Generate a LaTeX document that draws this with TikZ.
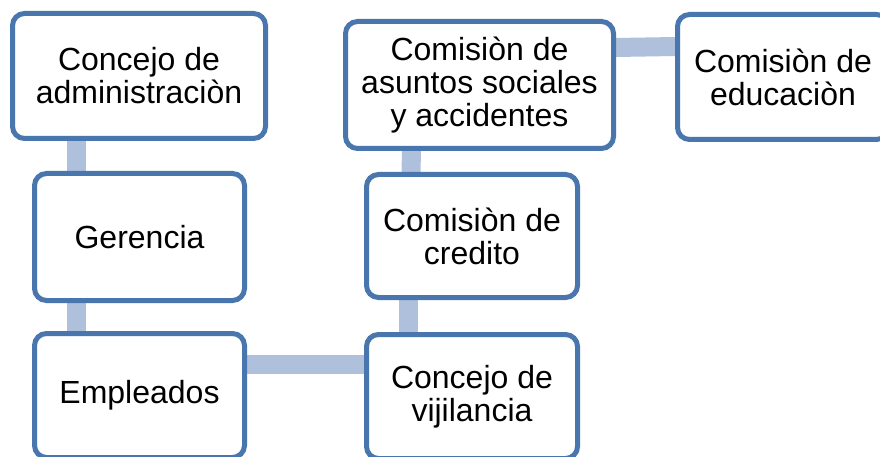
\documentclass[tikz,border=0pt]{standalone}
\usepackage{fontspec}
\setmainfont{Liberation Sans}
\usetikzlibrary{backgrounds}
\definecolor{boxline}{HTML}{4A76AE}
\definecolor{connfill}{HTML}{AFC0DC}
\tikzset{
  orgbox/.style={draw=boxline, line width=5pt, fill=white, rounded corners=12pt,
    align=center, inner sep=0pt, font=\fontsize{32}{33}\selectfont},
  conn/.style={draw=connfill, line width=19pt}
}
\begin{document}
\begin{tikzpicture}[x=1pt,y=-1pt]
\useasboundingbox (0,0) rectangle (880,457);
\clip (0,0) rectangle (880,457);
% nodes
\node[orgbox, minimum width=253pt, minimum height=125pt] (adm) at (139,76) {Concejo de\\administraciòn};
\node[orgbox, minimum width=210pt, minimum height=127pt] (ger) at (139.5,237) {Gerencia};
\node[orgbox, minimum width=210pt, minimum height=124pt] (emp) at (139.5,395.5) {Empleados};
\node[orgbox, minimum width=211pt, minimum height=124pt] (vij) at (472,396.5) {Concejo de\\vijilancia};
\node[orgbox, minimum width=211pt, minimum height=123pt] (cre) at (472,236) {Comisiòn de\\credito};
\node[orgbox, minimum width=268pt, minimum height=127pt] (soc) at (479.5,85) {Comisiòn de\\asuntos sociales\\y accidentes};
\node[orgbox, minimum width=211pt, minimum height=125pt] (edu) at (783,77) {Comisiòn de\\educaciòn};
% connectors (behind boxes)
\begin{scope}[on background layer]
\fill[white] (0,0) rectangle (880,457);
\draw[conn] ([xshift=-63pt]adm.south) -- ([xshift=-63.5pt]ger.north);
\draw[conn] ([xshift=-63.5pt]ger.south) -- ([xshift=-63.5pt]emp.north);
\draw[conn] ([yshift=31.5pt]emp.east) -- ([yshift=32.5pt]vij.west);
\draw[conn] ([xshift=-63.5pt]vij.north) -- ([xshift=-63.5pt]cre.south);
\draw[conn] ([xshift=-61pt]cre.north) -- ([xshift=-68pt]soc.south);
\draw[conn] ([yshift=37.5pt]soc.east) -- ([yshift=30.5pt]edu.west);
\end{scope}
\end{tikzpicture}
\end{document}
